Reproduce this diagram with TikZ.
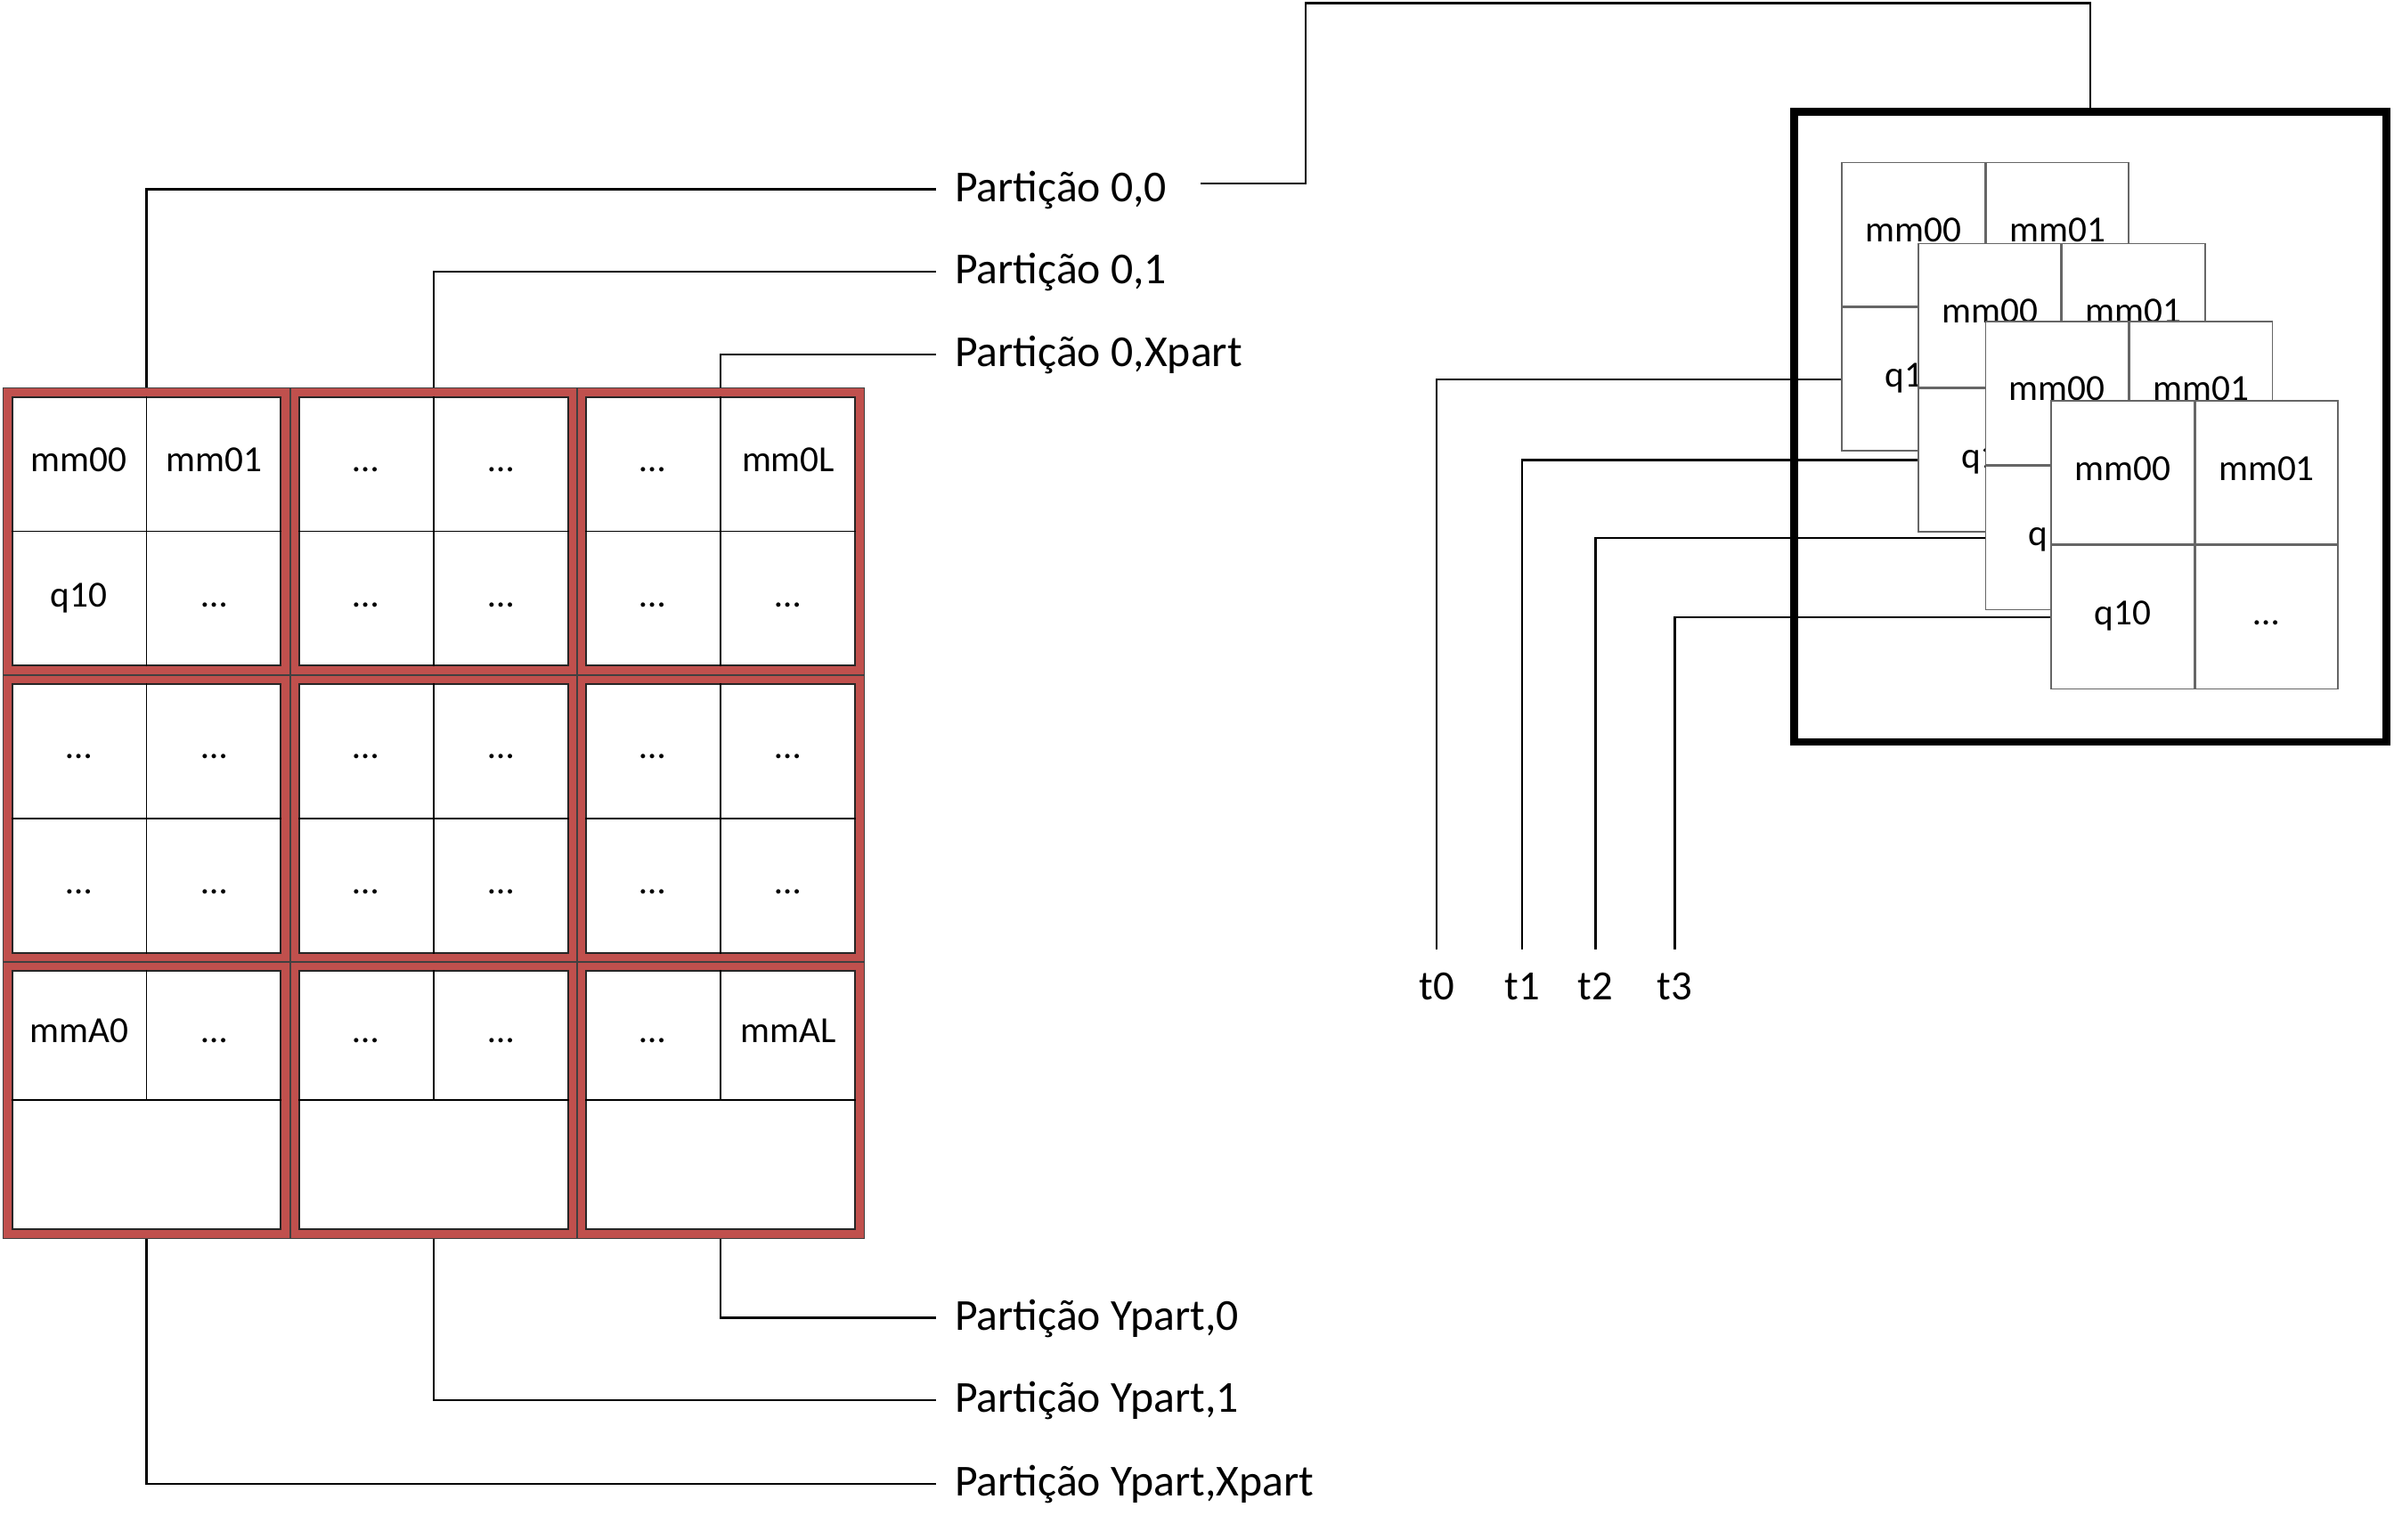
\documentclass[tikz,border=0pt]{standalone}
\usepackage{fontspec}
\setmainfont{Carlito}
\usetikzlibrary{positioning,calc}
\definecolor{blockred}{RGB}{192,80,77}
\tikzstyle{conn} = [draw, line width=0.75pt, -]
\tikzstyle{redblock} = [draw=black!75, fill=blockred, line width=0.5pt, minimum width=3.76cm, inner sep=0pt]
\tikzstyle{whitebox} = [draw=black!85, fill=white, line width=0.7pt, minimum width=3.52cm, inner sep=0pt]
\tikzstyle{divider} = [draw, line width=0.45pt, -]
\tikzstyle{celltext} = [font=\fontsize{13.7}{16}\selectfont, inner sep=0pt, text height=0.62em, text depth=0.05em]
\tikzstyle{cardcell} = [draw=black!60, fill=white, line width=0.5pt, minimum width=1.87cm, minimum height=1.88cm, inner sep=0pt, text height=0.62em, text depth=0.05em, font=\fontsize{13.7}{16}\selectfont]
\tikzstyle{partlabel} = [font=\fontsize{16.5}{20}\selectfont, anchor=west, inner xsep=0.24cm, inner ysep=0pt, text height=1em, text depth=0.1em]
\tikzstyle{tlabel} = [font=\fontsize{15.5}{18}\selectfont, anchor=north, inner xsep=0pt, inner ysep=0.3cm]
\tikzstyle{bigframe} = [draw, line width=2.9pt, minimum width=7.76cm, minimum height=8.26cm, inner sep=0pt]

\begin{document}
\begin{tikzpicture}[x=0.02cm, y=-0.02cm]
    \useasboundingbox (0,0) rectangle (1568,1008);

    % partition grid
    \foreach \r/\y/\h in {1/348/3.76, 2/536/3.76, 3/720.5/3.62}
        \foreach \c/\x in {1/96, 2/284, 3/472} {
            \node[redblock, minimum height=\h cm] (b\r\c) at (\x,\y) {};
            \node[whitebox, minimum height=\h cm-0.24cm] (w\r\c) at (b\r\c) {};
            \path[divider] (w\r\c.west) -- (w\r\c.east) (w\r\c.north) -- (w\r\c.center);
            \ifnum\r<3 \path[divider] (w\r\c.center) -- (w\r\c.south); \fi
        }

    \foreach \blk/\la/\lb/\lc/\ld in {w11/mm00/mm01/q10/…, w12/…/…/…/…, w13/…/mm0L/…/…,
                                     w21/…/…/…/…, w22/…/…/…/…, w23/…/…/…/…} {
        \node[celltext] (\blk-a) at ($(\blk.north west)!.25!(\blk.south east)$) {\la};
        \node[celltext] (\blk-b) at ($(\blk.north east)!.25!(\blk.south west)$) {\lb};
        \node[celltext] (\blk-c) at ($(\blk.south west)!.25!(\blk.north east)$) {\lc};
        \node[celltext] (\blk-d) at ($(\blk.south east)!.25!(\blk.north west)$) {\ld};
    }
    \foreach \blk/\la/\lb in {w31/mmA0/…, w32/…/…, w33/…/mmAL} {
        \node[celltext] (\blk-a) at ($(\blk.north west)!.25!(\blk.south east)$) {\la};
        \node[celltext] (\blk-b) at ($(\blk.north east)!.25!(\blk.south west)$) {\lb};
    }

    % partition labels
    \foreach \name/\y/\txt in {p00/124/{Partição 0,0}, p01/178/{Partição 0,1}, p0x/232/{Partição 0,Xpart},
                               py0/863/{Partição Ypart,0}, py1/917/{Partição Ypart,1}, pyx/972/{Partição Ypart,Xpart}}
        \node[partlabel] (\name) at (613,\y) {\txt};

    \foreach \src/\dst in {b11.north/p00, b12.north/p01, b13.north/p0x,
                           b33.south/py0, b32.south/py1, b31.south/pyx}
        \path[conn] (\src) |- (\dst.west);

    % one partition, copied per thread
    \node[bigframe] (frame) at (1369,279.5) {};
    \coordinate (hop) at (855,2);
    \path[conn] ([xshift=0.2cm,yshift=0.08cm]p00.east) -| (hop) -| (frame.north);

    \foreach \k/\pos in {1/{(1206,106)}, 2/{(1256,159)}, 3/{(1300,210)}, 4/{(1343,262)}} {
        \node[cardcell, anchor=north west] (c\k-a) at \pos {mm00};
        \node[cardcell, right=0pt of c\k-a] (c\k-b) {mm01};
        \node[cardcell, below=0pt of c\k-a] (c\k-c) {q10};
        \node[cardcell, right=0pt of c\k-c] (c\k-d) {…};
    }

    \foreach \k/\x/\t in {1/941/t0, 2/997/t1, 3/1045/t2, 4/1097/t3} {
        \node[tlabel] (\t) at (\x,622) {\t};
        \path[conn] (c\k-c.west) -| (\t.north);
    }
\end{tikzpicture}
\end{document}
